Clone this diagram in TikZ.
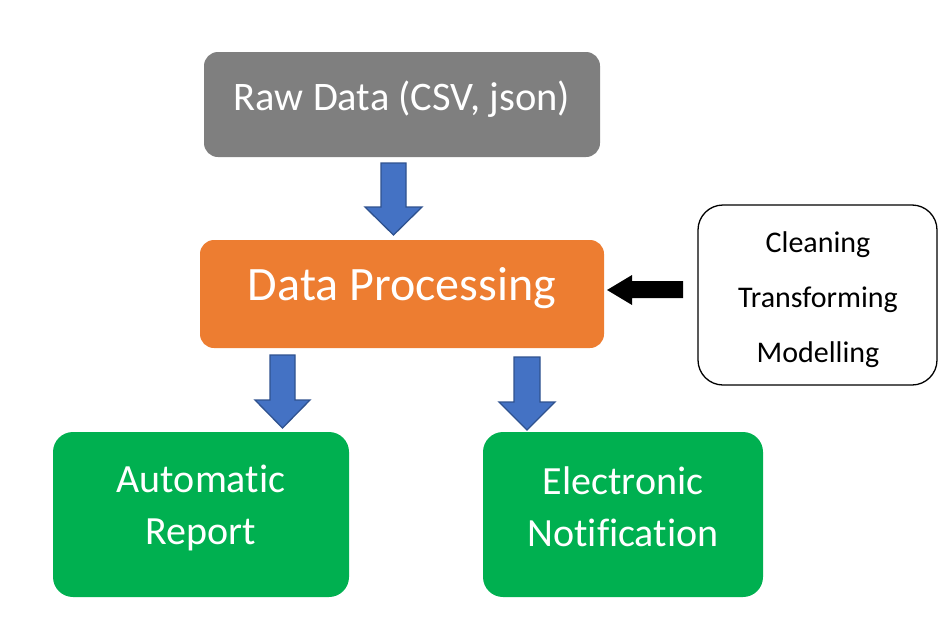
\documentclass[tikz,border=0pt]{standalone}
\usepackage{fontspec}
\setmainfont{Carlito}[Ligatures={NoCommon}]
\definecolor{boxgray}{HTML}{7F7F7F}
\definecolor{boxorange}{HTML}{ED7D31}
\definecolor{boxgreen}{HTML}{00B050}
\definecolor{arrblue}{HTML}{4472C4}
\definecolor{arrblueedge}{HTML}{2F528F}
\begin{document}
\begin{tikzpicture}[x=1pt,y=-1pt,
  mainbox/.style={rounded corners=15pt, inner sep=0pt, text=white, align=center},
  blockarrow/.style={fill=arrblue, draw=arrblueedge, line width=1.3pt, line join=miter},
  sidebox/.style={draw=black, line width=1.3pt, rounded corners=25pt, fill=white}
]
\useasboundingbox (0,0) rectangle (952,621);
% boxes
\fill[boxgray, rounded corners=14pt] (204,52) rectangle (600,157);
\node[mainbox, font=\fontsize{40.5}{48}\selectfont] (raw) at (402,99) {Raw Data (CSV, json)};
\fill[boxorange, rounded corners=14pt] (200,240) rectangle (604,348);
\node[mainbox, font=\fontsize{48}{56}\selectfont] (proc) at (402,288) {Data Processing};
\fill[boxgreen, rounded corners=20pt] (53,432) rectangle (349,597);
\node[mainbox, font=\fontsize{40}{52}\selectfont] (rep) at (201,508) {Automatic\\Report};
\fill[boxgreen, rounded corners=20pt] (483,432) rectangle (763,597);
\node[mainbox, font=\fontsize{40}{52}\selectfont] (note) at (623,507) {Electronic\\Notification};
\draw[sidebox] (698,205) rectangle (937,385);
\node[font=\fontsize{30}{55}\selectfont, align=center] (steps) at (818,300) {Cleaning\\Transforming\\Modelling};
% block arrows
\draw[blockarrow] (381,163) -- (406,163) -- (406,207) -- (422,207) -- (393.5,235) -- (365,207) -- (381,207) -- cycle;
\draw[blockarrow] (270,355) -- (295,355) -- (295,400) -- (310,400) -- (282.5,428) -- (255,400) -- (270,400) -- cycle;
\draw[blockarrow] (514,357) -- (540,357) -- (540,402) -- (555,402) -- (527,430) -- (499,402) -- (514,402) -- cycle;
% black arrow
\fill[black] (683,281) -- (632,281) -- (632,275) -- (607,290) -- (632,305) -- (632,298) -- (683,298) -- cycle;
\end{tikzpicture}
\end{document}
